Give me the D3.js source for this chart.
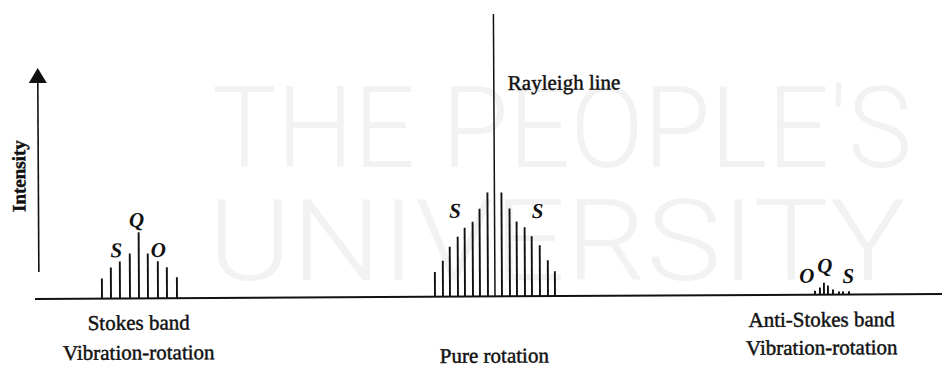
<!DOCTYPE html>
<html>
<head>
<meta charset="utf-8">
<script src="https://cdn.jsdelivr.net/npm/d3@7"></script>
<style>
  body { margin: 0; background: #fff; }
  svg { display: block; }
  .label { font-family: "Liberation Serif", "Times New Roman", serif; fill: #111; stroke: #111; stroke-width: 0.45px; }
  .branch { font-family: "Liberation Serif", serif; font-style: italic; font-weight: bold; fill: #111; }
</style>
</head>
<body>
<div id="app"></div>
<script>
const width = 942;
const height = 367;

// Raman shift (arbitrary units, Rayleigh line = 0) and intensity (% of Rayleigh line)
const stokesShift = [-393, -384, -375, -365, -356, -347, -337, -328, -318];
const stokesIntensity = [7.1, 11.0, 13.1, 15.9, 23.4, 15.9, 13.1, 11.0, 7.4];

const rotationShift = [-60, -52, -45, -37, -30, -22, -15, -7, 0, 7, 15, 22, 30, 37, 45, 53, 60];
const rotationIntensity = [8.8, 12.7, 17.7, 21.2, 24.4, 26.5, 31.1, 36.8, 100, 36.8, 31.1, 26.5, 24.4, 21.2, 18.0, 12.7, 8.8];

const antiStokesShift = [320, 325, 329, 333, 338, 344, 348, 354];
const antiStokesIntensity = [1.4, 2.5, 4.2, 3.2, 1.8, 1.1, 1.1, 1.1];

// branch letters: text, shift, level
const branchText = ['S', 'Q', 'O', 'S', 'S', 'O', 'Q', 'S'];
const branchShift = [-378.5, -358, -336.5, -39.5, 43, 312, 330, 353.5];
const branchLevel = [14.6, 25.3, 14.6, 27.9, 27.7, 4.2, 7.7, 4.1];

// band captions: lines of text, centre shift
const captionLines = [['Stokes band', 'Vibration-rotation'], ['Pure rotation'], ['Anti-Stokes band', 'Vibration-rotation']];
const captionShift = [-356.5, -1, 326.5];

const watermarkLines = ["THE PEOPLE'S", 'UNIVERSITY'];

const svg = d3.select('#app').append('svg')
  .attr('width', width)
  .attr('height', height);

// faint watermark behind the figure
svg.append('g')
  .selectAll('text')
  .data(watermarkLines)
  .enter().append('text')
  .attr('x', (_, i) => [212, 208][i])
  .attr('y', (_, i) => [167, 280][i])
  .attr('textLength', (_, i) => [700, 698][i])
  .attr('lengthAdjust', 'spacingAndGlyphs')
  .style('font-family', 'Roboto, "Open Sans", sans-serif')
  .style('font-weight', 300)
  .style('font-size', '114px')
  .style('fill', '#f2f2f2')
  .text(d => d);

const x = d3.scaleLinear().domain([-460, 447]).range([35, 942]);
const y = d3.scaleLinear().domain([0, 100]).range([299, 16.5]);

// the scanned figure is tilted slightly
const fig = svg.append('g').attr('transform', 'rotate(-0.32, 35, 299)');

// baseline
fig.append('line')
  .attr('x1', x.range()[0]).attr('x2', x.range()[1])
  .attr('y1', y(0)).attr('y2', y(0))
  .attr('stroke', '#111')
  .attr('stroke-width', 2);

const bands = [
  { shift: stokesShift, intensity: stokesIntensity },
  { shift: rotationShift, intensity: rotationIntensity },
  { shift: antiStokesShift, intensity: antiStokesIntensity }
];

bands.forEach(band => {
  const lines = band.shift.map((s, i) => ({ s, v: band.intensity[i] }));
  fig.append('g')
    .selectAll('line')
    .data(lines)
    .enter().append('line')
    .attr('x1', d => x(d.s)).attr('x2', d => x(d.s))
    .attr('y1', y(0)).attr('y2', d => y(d.v))
    .attr('stroke', '#111')
    .attr('stroke-width', d => d.v === 100 ? 1.5 : 1.9);
});

// branch letters
fig.append('g')
  .selectAll('text')
  .data(branchText.map((t, i) => ({ t, s: branchShift[i], v: branchLevel[i] })))
  .enter().append('text')
  .attr('class', 'branch')
  .attr('x', d => x(d.s))
  .attr('y', d => y(d.v))
  .attr('text-anchor', 'middle')
  .style('font-size', '21px')
  .text(d => d.t);

// Rayleigh line caption
fig.append('text')
  .attr('class', 'label')
  .attr('x', x(14))
  .attr('y', 92.6)
  .style('font-size', '21px')
  .text('Rayleigh line');

// band captions
const captionY = [[330.3, 360.1], [365.2], [330.9, 358.9]];
captionLines.forEach((lines, i) => {
  fig.append('g')
    .selectAll('text')
    .data(lines)
    .enter().append('text')
    .attr('class', 'label')
    .attr('x', x(captionShift[i]))
    .attr('y', (_, j) => captionY[i][j])
    .attr('text-anchor', 'middle')
    .style('font-size', '21px')
    .text(d => d);
});

// intensity arrow
fig.append('line')
  .attr('x1', 39).attr('x2', 39)
  .attr('y1', 272).attr('y2', 80)
  .attr('stroke', '#111')
  .attr('stroke-width', 1.6);

fig.append('path')
  .attr('d', 'M39,68 L30,83 L48,83 Z')
  .attr('fill', '#111');

fig.append('text')
  .attr('class', 'label')
  .attr('transform', 'translate(26,176) rotate(-90)')
  .attr('text-anchor', 'middle')
  .style('font-size', '19px')
  .style('font-weight', 'bold')
  .text('Intensity');
</script>
</body>
</html>
